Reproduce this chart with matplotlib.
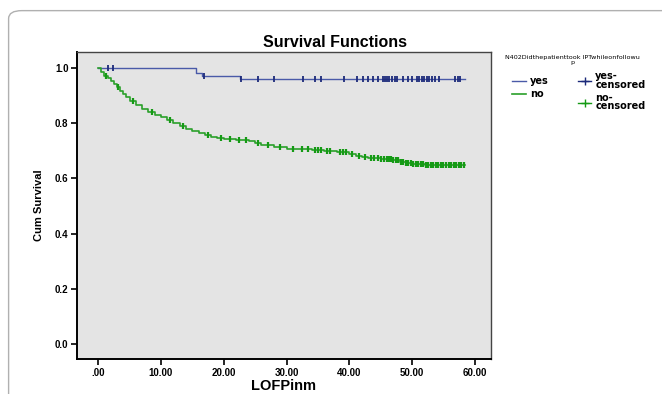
import matplotlib
matplotlib.use("Agg")
import matplotlib.pyplot as plt
from matplotlib.patches import FancyBboxPatch
from matplotlib.lines import Line2D

plt.rcParams['font.family'] = ['Liberation Sans', 'DejaVu Sans']

# ---- data ----
yes_times = [0.0, 15.6, 16.6, 22.6, 58.5]
yes_surv = [1.0, 0.981, 0.971, 0.960, 0.960]
yes_cens = [1.5, 2.4, 16.8, 22.8, 25.5, 28.0, 32.7, 34.5, 35.5, 39.2, 41.2, 42.2, 43.0,
            43.8, 44.6, 45.3, 45.7, 46.0, 46.4, 46.8, 47.2, 47.6, 48.6, 49.4, 50.0, 50.8,
            51.1, 51.5, 51.9, 52.3, 52.7, 53.1, 53.6, 54.3, 56.9, 57.3, 57.7]

no_times = [0.0, 0.5, 1.0, 1.5, 2.0, 2.5, 3.0, 3.5, 4.0, 4.5, 5.0, 6.0, 7.0, 8.0, 9.0,
            10.0, 11.0, 12.0, 13.0, 14.0, 15.0, 16.0, 17.0, 18.0, 19.0, 20.0, 22.0, 24.0,
            25.0, 26.0, 28.0, 30.0, 32.0, 34.0, 36.0, 38.0, 40.0, 41.0, 42.0, 43.0, 45.0,
            47.0, 48.0, 49.0, 50.0, 52.0, 58.5]
no_surv = [1.0, 0.985, 0.972, 0.962, 0.952, 0.942, 0.931, 0.918, 0.905, 0.893, 0.882,
           0.866, 0.852, 0.841, 0.831, 0.821, 0.810, 0.800, 0.790, 0.780, 0.771, 0.763,
           0.756, 0.750, 0.745, 0.741, 0.738, 0.735, 0.729, 0.722, 0.714, 0.708, 0.705,
           0.702, 0.699, 0.694, 0.688, 0.682, 0.677, 0.673, 0.670, 0.665, 0.660, 0.656,
           0.652, 0.650, 0.650]
no_cens = [1.2, 3.2, 5.5, 8.5, 11.5, 13.5, 17.5, 19.5, 21.0, 22.5, 23.5, 25.5, 27.0,
           29.0, 31.0, 32.5, 33.5, 34.5, 35.0, 35.5, 36.5, 37.0, 38.5, 39.0, 39.5, 40.5,
           41.5, 42.5, 43.5, 44.0, 44.5, 45.0, 45.5, 46.0, 46.3, 46.6, 47.0, 47.4, 47.8,
           48.2, 48.6, 49.0, 49.4, 49.8, 50.2, 50.6, 51.0, 51.4, 51.8, 52.2, 52.6, 53.0,
           53.4, 53.8, 54.2, 54.6, 55.0, 55.4, 55.8, 56.2, 56.6, 57.0, 57.4, 57.8, 58.2]

xticks = [0, 10, 20, 30, 40, 50, 60]
xticklabels = [".00", "10.00", "20.00", "30.00", "40.00", "50.00", "60.00"]
yticks = [0.0, 0.2, 0.4, 0.6, 0.8, 1.0]
yticklabels = ["0.0", "0.2", "0.4", "0.6", "0.8", "1.0"]

legend_title = "N402Didthepatienttook IPTwhileonfollowu\np"
legend_labels = ["yes", "no", "yes-\ncensored", "no-\ncensored"]

blue_line = "#4a5aa8"
blue_mark = "#1c2a7a"
green_line = "#2aa02a"
green_mark = "#159a15"


def surv_at(times, surv, t):
    v = surv[0]
    for ti, si in zip(times, surv):
        if ti <= t:
            v = si
        else:
            break
    return v


fig = plt.figure(figsize=(6.62, 3.94), dpi=100)
fig.patch.set_facecolor("white")

# outer rounded frame
frame = FancyBboxPatch((0.013, -0.1), 1.2, 1.073, boxstyle="round,pad=0,rounding_size=0.02",
                       transform=fig.transFigure, facecolor="none", edgecolor="#b0b0b0",
                       linewidth=1.0, zorder=0)
fig.patches.append(frame)

ax = fig.add_axes([0.116, 0.088, 0.626, 0.781])
ax.set_facecolor("#e4e4e4")

ax.step(yes_times, yes_surv, where="post", color=blue_line, linewidth=1.0, zorder=3)
ax.step(no_times, no_surv, where="post", color=green_line, linewidth=1.2, zorder=3)

ax.plot(yes_cens, [surv_at(yes_times, yes_surv, t) for t in yes_cens], linestyle="none",
        marker="|", markersize=5, markeredgewidth=1.3, color=blue_mark, zorder=4)
ax.plot(no_cens, [surv_at(no_times, no_surv, t) for t in no_cens], linestyle="none",
        marker="|", markersize=5, markeredgewidth=1.6, color=green_mark, zorder=4)

ax.set_xlim(-3.4, 62.6)
ax.set_ylim(-0.055, 1.059)
ax.set_xticks(xticks)
ax.set_xticklabels(xticklabels)
ax.set_yticks(yticks)
ax.set_yticklabels(yticklabels)
ax.tick_params(axis="both", direction="out", length=4, width=1.2, labelsize=7,
               colors="black", pad=2)
for lab in ax.get_xticklabels() + ax.get_yticklabels():
    lab.set_fontweight("bold")

for side in ["left", "bottom"]:
    ax.spines[side].set_linewidth(1.4)
    ax.spines[side].set_color("black")
for side in ["top", "right"]:
    ax.spines[side].set_linewidth(1.0)
    ax.spines[side].set_color("#444444")

ax.set_xlabel("LOFPinm", fontsize=10.5, fontweight="bold", labelpad=1)
ax.set_ylabel("Cum Survival", fontsize=8, fontweight="bold", labelpad=8)
fig.text(0.506, 0.893, "Survival Functions", fontsize=11.5, fontweight="bold",
         ha="center", va="center")

fig.text(0.864, 0.848, legend_title, fontsize=4.6, ha="center", va="center",
         linespacing=1.0, family=["DejaVu Sans"])

handles = [
    Line2D([0], [0], color=blue_line, lw=1.0),
    Line2D([0], [0], color=green_line, lw=1.2),
    Line2D([0], [0], color=blue_mark, lw=1.0, marker="+", markersize=6),
    Line2D([0], [0], color=green_mark, lw=1.0, marker="+", markersize=6),
]
leg = fig.legend(handles, legend_labels, loc="upper left", bbox_to_anchor=(0.774, 0.82),
                 ncol=2, frameon=False, handlelength=1.4, borderpad=0, borderaxespad=0,
                 handletextpad=0.4, columnspacing=3.0, labelspacing=0.3,
                 prop={"weight": "bold", "size": 7, "family": "DejaVu Sans"})
for t in leg.get_texts():
    t.set_linespacing(0.85)

fig.savefig("out.png", dpi=100)
